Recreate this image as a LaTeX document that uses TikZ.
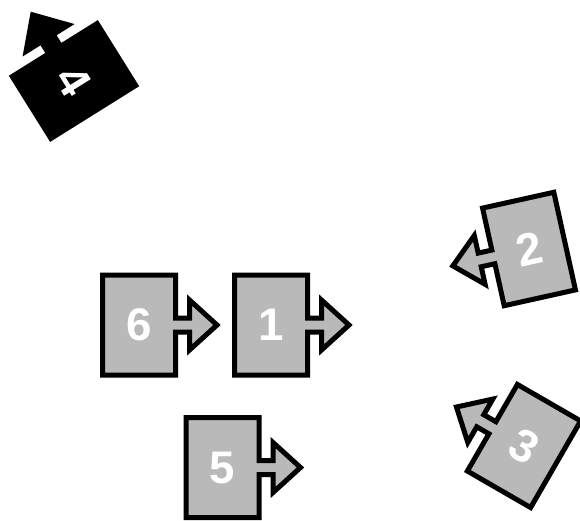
\documentclass[tikz,border=0pt]{standalone}
\usepackage{fontspec}
\setmainfont{Liberation Sans}

\begin{document}
\begin{tikzpicture}[x=0.2mm, y=0.2mm,
	tabbox/.style={draw=black, line width=1mm, fill=gray!55, line join=miter},
	darkbox/.style={tabbox, fill=black},
	numlabel/.style={text=white, inner sep=0pt, font=\fontsize{26}{26}\selectfont\bfseries},
	pics/tabshape/.style={code={
		\path[pic actions] (-36.5,-50) -- (36.5,-50) -- (36.5,-7) -- (50.5,-7)
			-- (50.5,-25) -- (78,0) -- (50.5,25) -- (50.5,7) -- (36.5,7)
			-- (36.5,50) -- (-36.5,50) -- cycle;
	}}
	]
	\useasboundingbox (0,0) rectangle (580,520);

	% Upright boxes
	\pic[tabbox] at (139,195) {tabshape};
	\node[numlabel] (n6) at (139,195) {6};
	\pic[tabbox] at (271,195) {tabshape};
	\node[numlabel] (n1) at (271,195) {1};
	\pic[tabbox] at (222.5,52.5) {tabshape};
	\node[numlabel] (n5) at (222.5,52.5) {5};

	% Tilted boxes, tab pointing back
	\pic[tabbox, rotate=192.5] at (529,271) {tabshape};
	\node[numlabel, rotate=12.5] (n2) at (529,271) {2};
	\pic[tabbox, rotate=150] at (524,74) {tabshape};
	\node[numlabel, rotate=-30] (n3) at (524,74) {3};
	\pic[darkbox, rotate=122] at (74,439) {tabshape};
	\node[numlabel, rotate=-58] (n4) at (74,439) {4};

\end{tikzpicture}
\end{document}
